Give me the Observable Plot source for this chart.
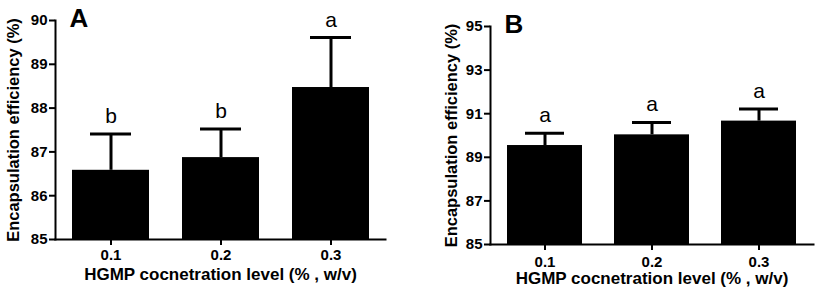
<!DOCTYPE html>
<html>
<head>
<meta charset="utf-8">
<script src="https://cdn.jsdelivr.net/npm/d3@7"></script>
<script src="https://cdn.jsdelivr.net/npm/@observablehq/plot@0.6"></script>
<style>
  body { margin: 0; background: #fff; }
  #wrap { display: flex; width: 827px; height: 300px; }
  svg { font-family: "Liberation Sans", Arial, sans-serif; }
</style>
</head>
<body>
<div id="wrap"></div>
<script>
const levels = ["0.1", "0.2", "0.3"];
const meanA = [86.58, 86.87, 88.47];
const errTopA = [87.41, 87.52, 89.61];
const lettersA = ["b", "b", "a"];
const meanB = [89.54, 90.03, 90.66];
const errTopB = [90.10, 90.60, 91.22];
const lettersB = ["a", "a", "a"];
const ticksA = [85, 86, 87, 88, 89, 90];
const ticksB = [85, 87, 89, 91, 93, 95];
const xTitle = "HGMP cocnetration level (% , w/v)";
const yTitle = "Encapsulation efficiency (%)";

function panel({label, mean, errTop, letters, domain, ticks, width, margins, xLabelOffset, xTickPad, yLabelOffset}) {
  const data = levels.map((l, i) => ({level: l, mean: mean[i], err: errTop[i], letter: letters[i]}));
  const [mt, mr, mb, ml] = margins;
  return Plot.plot({
    width, height: 300,
    marginTop: mt, marginRight: mr, marginBottom: mb, marginLeft: ml,
    style: {fontFamily: '"Liberation Sans", Arial, sans-serif', color: "#000", background: "#fff", overflow: "visible"},
    x: {domain: levels, paddingInner: 0.3, paddingOuter: 0.15, label: null},
    y: {domain, label: null},
    marks: [
      Plot.barY(data, {x: "level", y1: domain[0], y2: "mean", fill: "#000"}),
      Plot.ruleX(data, {x: "level", y1: "mean", y2: "err", stroke: "#000", strokeWidth: 3}),
      Plot.tickY(data, {x: "level", y: "err", stroke: "#000", strokeWidth: 3, insetLeft: 18, insetRight: 18}),
      Plot.text(data, {x: "level", y: "err", text: "letter", dy: -11, lineAnchor: "bottom", fontSize: 21, fill: "#000"}),
      Plot.axisY({ticks, tickSize: 6, tickPadding: 2, tickFormat: d => d, fontSize: 15, fontWeight: "bold", strokeWidth: 2, label: null}),
      Plot.axisX({tickSize: 6, tickPadding: xTickPad, fontSize: 15, fontWeight: "bold", strokeWidth: 2, label: null}),
      Plot.frame({anchor: "left", strokeWidth: 2}),
      Plot.frame({anchor: "bottom", strokeWidth: 2}),
      Plot.text([xTitle], {frameAnchor: "bottom", dy: xLabelOffset, fontSize: 17, fontWeight: "bold", fill: "#000"}),
      Plot.text([yTitle], {frameAnchor: "left", textAnchor: "middle", dx: -yLabelOffset, rotate: -90, fontSize: 16.5, fontWeight: "bold", fill: "#000"}),
      Plot.text([label], {frameAnchor: "top-left", dx: 14, dy: -12, lineAnchor: "top", textAnchor: "start", fontSize: 26, fontWeight: "bold", fill: "#000"})
    ]
  });
}

const wrap = document.getElementById("wrap");
wrap.append(panel({
  label: "A", mean: meanA, errTop: errTopA, letters: lettersA,
  domain: [85, 90], ticks: ticksA, width: 414,
  margins: [20, 29, 61, 55], xLabelOffset: 40, xTickPad: 4, yLabelOffset: 42
}));
wrap.append(panel({
  label: "B", mean: meanB, errTop: errTopB, letters: lettersB,
  domain: [85, 95], ticks: ticksB, width: 413,
  margins: [26, 14, 56, 76], xLabelOffset: 39, xTickPad: 6, yLabelOffset: 39
}));
</script>
</body>
</html>
